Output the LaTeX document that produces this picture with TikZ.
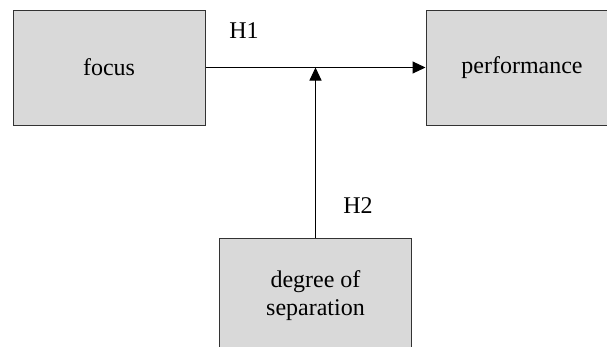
\documentclass[tikz,border=0pt]{standalone}
\usepackage{fontspec}
\setmainfont{Liberation Serif}
\usetikzlibrary{arrows.meta}
\definecolor{boxfill}{HTML}{D9D9D9}
\definecolor{boxline}{HTML}{333333}
\tikzset{
  box/.style={draw=boxline, fill=boxfill, line width=1pt, minimum width=192pt, minimum height=115pt, inner sep=0pt, align=center, font=\fontsize{24}{28}\selectfont},
  conn/.style={draw=black, line width=1pt, -{Triangle[length=13pt,width=12pt]}},
  lbl/.style={font=\fontsize{24}{28}\selectfont, inner sep=0pt}
}
\begin{document}
\begin{tikzpicture}[x=1pt,y=-1pt]
\useasboundingbox (0,0) rectangle (607,346);
\clip (0,0) rectangle (607,346);
\fill[white] (0,0) rectangle (607,346);
\node[box] (focus) at (109,67.5) {focus};
\node[box] (perf) at (522,67.5) {performance};
\node[box] (sep) at (315.5,296) {degree of\\separation};
\coordinate (m) at (sep.north |- focus.east);
\draw[conn] (focus.east) -- (perf.west);
\draw[conn] (sep.north) -- (m);
\node[lbl] (h1) at (244,31) {H1};
\node[lbl] (h2) at (358,206) {H2};
\end{tikzpicture}
\end{document}
